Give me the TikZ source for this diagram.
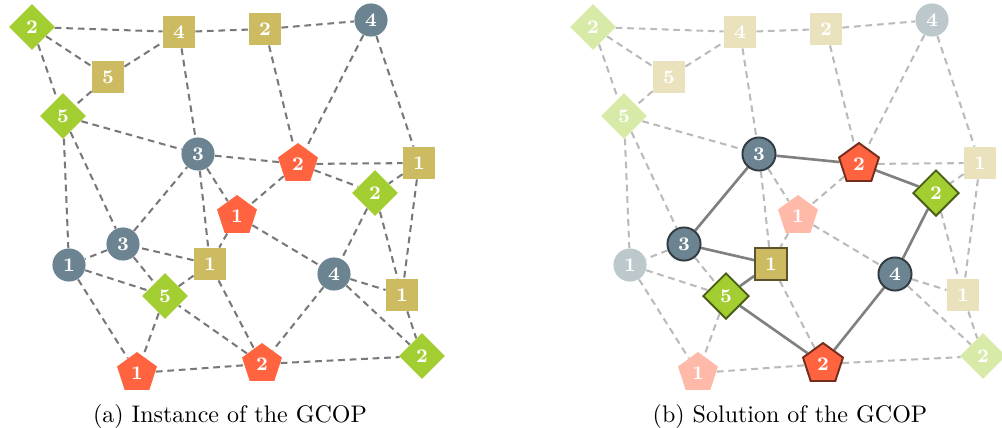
\documentclass[tikz,border=0pt]{standalone}
\usetikzlibrary{shapes.geometric}
\definecolor{cgreen}{HTML}{A3CE31}
\definecolor{cgold}{HTML}{CDBB62}
\definecolor{cslate}{HTML}{6C8491}
\definecolor{cred}{HTML}{FF6340}
\pgfdeclarelayer{bg}
\pgfsetlayers{bg,main}
\newcommand\drawgraph{%
  \node[D] (d2) at (32,27) {2};
  \node[S] (s4) at (179,32) {4};
  \node[S] (s2) at (265,29) {2};
  \node[C] (c4) at (371,20) {4};
  \node[S] (s5) at (108,77) {5};
  \node[D] (d5) at (63,116) {5};
  \node[Csel] (c3) at (198,154) {3};
  \node[Psel] (p2) at (298,164) {2};
  \node[S] (s1) at (419,163) {1};
  \node[Dsel] (d2b) at (375,193) {2};
  \node[P] (p1) at (237,216) {1};
  \node[Csel] (c3b) at (123,244) {3};
  \node[C] (c1) at (69,265) {1};
  \node[Ssel] (s1b) at (210,264) {1};
  \node[Csel] (c4b) at (334,274) {4};
  \node[Dsel] (d5b) at (165,296) {5};
  \node[S] (s1c) at (402,295) {1};
  \node[P] (p1b) at (137,373) {1};
  \node[Psel] (p2b) at (262,364) {2};
  \node[D] (d2c) at (422,356) {2};
  \begin{pgfonlayer}{bg}
    \foreach \a/\b in {d2/s4,d2/s5,d2/d5,s5/s4,s5/d5,s4/s2,s4/c3,s2/c4,s2/p2,c4/p2,c4/s1,
      d5/c3,d5/c1,d5/c3b,c3/s1b,c3/p1,p2/s1,p2/p1,s1/d2b,s1/s1c,d2b/s1c,p1/s1b,p1/c4b,
      c3b/c1,c3b/d5b,c1/d5b,c1/p1b,d5b/p1b,p1b/p2b,c4b/s1c,c4b/d2c,s1c/d2c,p2b/d2c,s1b/p2b}
      \draw[E] (\a) -- (\b);
    \foreach \a/\b in {c3/p2,p2/d2b,d2b/c4b,c4b/p2b,p2b/d5b,d5b/s1b,s1b/c3b,c3b/c3}
      \draw[Esel] (\a) -- (\b);
  \end{pgfonlayer}
}
\tikzset{
  base/.style={text=white, font=\footnotesize\bfseries, inner sep=0pt},
  circ/.style={base, circle, minimum size=13.8pt},
  squ/.style={base, rectangle, minimum size=13.3pt},
  dia/.style={base, diamond, aspect=1, minimum size=19.2pt},
  pen/.style={base, regular polygon, regular polygon sides=5, minimum size=17.5pt},
  selb/.style={line width=0.8pt},
}
\begin{document}
\begin{tikzpicture}[x=0.4167pt, y=-0.4167pt]
  \useasboundingbox (0,0) rectangle (1002,427);
  \begin{scope}[name prefix=a-,
      C/.style={circ, fill=cslate}, Csel/.style={C},
      S/.style={squ, fill=cgold}, Ssel/.style={S},
      D/.style={dia, fill=cgreen}, Dsel/.style={D},
      P/.style={pen, fill=cred}, Psel/.style={P},
      E/.style={draw=black!53, dash pattern=on 2.8pt off 2pt, line width=0.85pt},
      Esel/.style={E}]
    \drawgraph
  \end{scope}
  \begin{scope}[shift={(561,0)}, name prefix=b-,
      C/.style={circ, fill=cslate!45!white}, Csel/.style={circ, selb, fill=cslate, draw=cslate!45!black},
      S/.style={squ, fill=cgold!42!white}, Ssel/.style={squ, selb, fill=cgold, draw=cgold!45!black},
      D/.style={dia, fill=cgreen!42!white}, Dsel/.style={dia, selb, fill=cgreen, draw=cgreen!45!black},
      P/.style={pen, fill=cred!45!white}, Psel/.style={pen, selb, fill=cred, draw=cred!45!black},
      E/.style={draw=black!27, dash pattern=on 2.8pt off 2pt, line width=0.85pt},
      Esel/.style={draw=black!50, line width=1.1pt}]
    \drawgraph
  \end{scope}
  \node[anchor=base] (capa) at (230,422) {(a) Instance of the GCOP};
  \node[anchor=base] (capb) at (790,422) {(b) Solution of the GCOP};
\end{tikzpicture}
\end{document}
